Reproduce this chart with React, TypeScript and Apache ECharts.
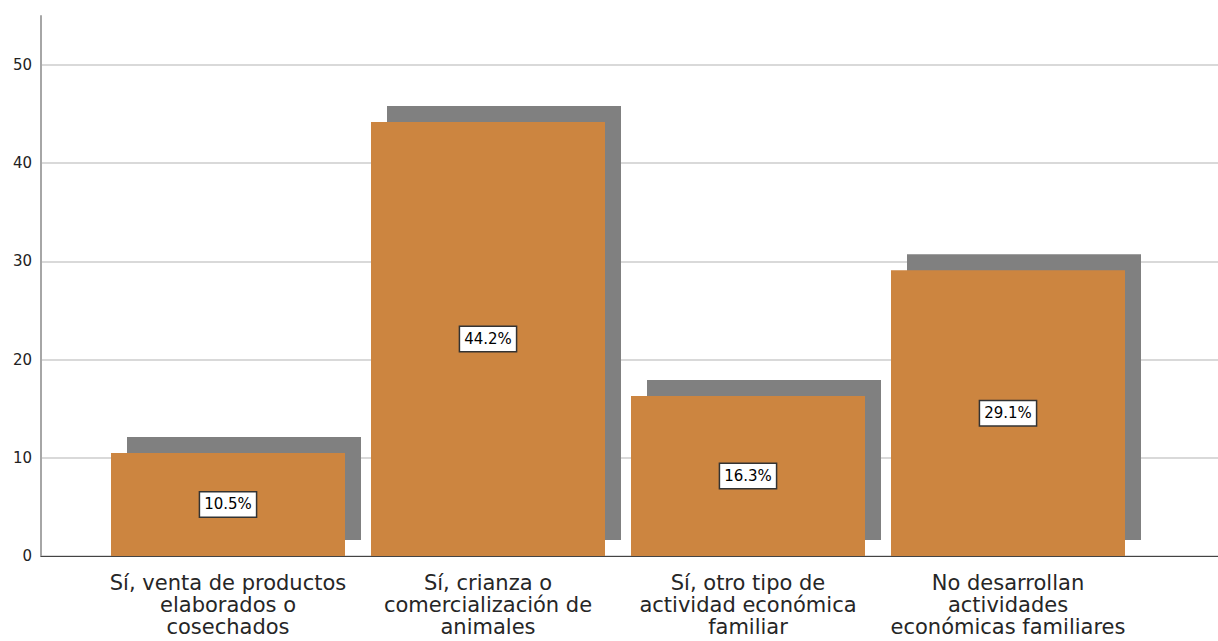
import React, { useEffect, useRef } from "react";
import * as echarts from "echarts";

const categories = [
  "Sí, venta de productos\nelaborados o\ncosechados",
  "Sí, crianza o\ncomercialización de\nanimales",
  "Sí, otro tipo de\nactividad económica\nfamiliar",
  "No desarrollan\nactividades\neconómicas familiares",
];
const percentages = [10.5, 44.2, 16.3, 29.1];
const yMax = 55;
const yTickMax = 50;
const yTickStep = 10;

const FONT = "'DejaVu Sans', Verdana, sans-serif";

export default function App() {
  const ref = useRef<HTMLDivElement>(null);
  useEffect(() => {
    if (!ref.current) return;
    const chart = echarts.init(ref.current, null, { renderer: "svg" });
    chart.setOption({
      animation: false,
      backgroundColor: "#ffffff",
      textStyle: { fontFamily: FONT },
      grid: [
        { left: 41, right: 0, top: 16, bottom: 85 },
        { left: 41, right: 0, top: 65, bottom: 85 },
        { left: 98, width: 1040, top: 16, bottom: 85 },
        { left: 114, width: 1040, top: 0, bottom: 101 },
      ],
      xAxis: [
        {
          gridIndex: 0,
          type: "category",
          data: [""],
          axisLine: { show: true, lineStyle: { color: "#444444", width: 1 } },
          axisTick: { show: false },
          axisLabel: { show: false },
          z: 5,
        },
        { gridIndex: 1, type: "category", data: [""], show: false },
        {
          gridIndex: 2,
          type: "category",
          data: categories,
          axisLine: { show: false },
          axisTick: { show: false },
          axisLabel: {
            interval: 0,
            fontSize: 21,
            lineHeight: 22,
            color: "#262626",
            margin: 16,
            fontFamily: FONT,
          },
        },
        { gridIndex: 3, type: "category", data: categories, show: false },
      ],
      yAxis: [
        {
          gridIndex: 0,
          type: "value",
          min: 0,
          max: yMax,
          axisLine: { show: true, lineStyle: { color: "#a6a6a6", width: 2 } },
          axisTick: { show: false },
          axisLabel: { show: false },
          splitLine: { show: false },
          z: 5,
        },
        {
          gridIndex: 1,
          type: "value",
          min: 0,
          max: yTickMax,
          interval: yTickStep,
          axisLine: { show: false },
          axisTick: { show: false },
          axisLabel: { fontSize: 15, color: "#222222", margin: 9, fontFamily: FONT },
          splitLine: { show: true, lineStyle: { color: "#d9d9d9", width: 2 } },
        },
        { gridIndex: 2, type: "value", min: 0, max: yMax, show: false },
        { gridIndex: 3, type: "value", min: 0, max: yMax, show: false },
      ],
      series: [
        {
          type: "bar",
          xAxisIndex: 3,
          yAxisIndex: 3,
          data: percentages,
          barCategoryGap: "10%",
          itemStyle: { color: "#808080" },
          z: 2,
          silent: true,
        },
        {
          type: "bar",
          xAxisIndex: 2,
          yAxisIndex: 2,
          data: percentages,
          barCategoryGap: "10%",
          itemStyle: { color: "#cc8540" },
          z: 3,
          label: {
            show: true,
            position: "inside",
            formatter: (p: any) => `${p.value.toFixed(1)}%`,
            backgroundColor: "#ffffff",
            borderColor: "#333333",
            borderWidth: 1.5,
            padding: [5, 4, 4, 4],
            color: "#000000",
            fontSize: 15,
            fontFamily: FONT,
          },
        },
      ],
    });
    return () => chart.dispose();
  }, []);
  return (
    <div
      ref={ref}
      style={{ position: "fixed", left: 0, top: 0, width: 1218, height: 641 }}
    />
  );
}
